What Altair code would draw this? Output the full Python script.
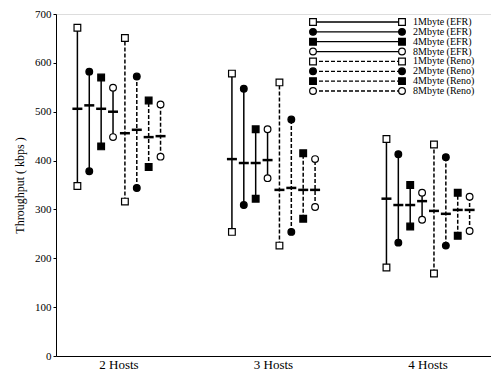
import altair as alt
import pandas as pd

hosts = ["2 Hosts", "3 Hosts", "4 Hosts"]
series = ["1Mbyte (EFR)", "2Mbyte (EFR)", "4Mbyte (EFR)", "8Mbyte (EFR)",
          "1Mbyte (Reno)", "2Mbyte (Reno)", "4Mbyte (Reno)", "8Mbyte (Reno)"]
buffers = ["1Mbyte", "2Mbyte", "4Mbyte", "8Mbyte"]

# per host: values in series order
high = {
    "2 Hosts": [672, 582, 570, 549, 651, 572, 523, 515],
    "3 Hosts": [578, 547, 464, 464, 560, 484, 415, 403],
    "4 Hosts": [444, 413, 350, 334, 433, 407, 334, 326],
}
mean = {
    "2 Hosts": [506, 513, 506, 500, 456, 463, 448, 450],
    "3 Hosts": [403, 395, 395, 401, 340, 344, 340, 340],
    "4 Hosts": [322, 309, 309, 317, 297, 291, 299, 299],
}
low = {
    "2 Hosts": [348, 378, 429, 448, 316, 344, 387, 408],
    "3 Hosts": [254, 309, 322, 364, 226, 254, 281, 305],
    "4 Hosts": [181, 232, 265, 279, 169, 226, 246, 256],
}

rows = []
for h in hosts:
    for j, s in enumerate(series):
        rows.append({
            "host": h, "series": s,
            "buf": s.split(" ")[0],
            "proto": "EFR" if "EFR" in s else "Reno",
            "low": low[h][j], "mean": mean[h][j], "high": high[h][j],
        })
df = pd.DataFrame(rows)

leg = pd.DataFrame({
    "series": series,
    "buf": [s.split(" ")[0] for s in series],
    "proto": ["EFR" if "EFR" in s else "Reno" for s in series],
})

FONT = "Liberation Serif"

xenc = alt.X("host:N", sort=hosts, title=None,
             scale=alt.Scale(paddingInner=0.385, paddingOuter=0.1),
             axis=alt.Axis(labelAngle=0, labelFontSize=13, ticks=False,
                           domainColor="black", labelColor="black",
                           labelPadding=2, labelFont=FONT))
xoff = alt.XOffset("series:N", sort=series,
                   scale=alt.Scale(paddingInner=0, paddingOuter=0))
yscale = alt.Scale(domain=[0, 700])
yaxis = alt.Axis(values=list(range(0, 701, 100)), title="Throughput ( kbps )",
                 titleFont=FONT, titleFontWeight="normal", titleFontSize=12,
                 titleColor="black", labelFont=FONT, labelFontSize=11,
                 labelColor="black", domainColor="black", tickColor="black",
                 tickSize=3, grid=False, titlePadding=8)

dash = alt.StrokeDash("proto:N", legend=None,
                      scale=alt.Scale(domain=["EFR", "Reno"], range=[[1, 0], [4, 2]]))
shape = alt.Shape("buf:N", legend=None,
                  scale=alt.Scale(domain=buffers, range=["square", "circle", "square", "circle"]))
fill = alt.Fill("buf:N", legend=None,
                scale=alt.Scale(domain=buffers, range=["white", "black", "black", "white"]))

base = alt.Chart(df)
rules = base.mark_rule(color="black", strokeWidth=1.5).encode(
    x=xenc, xOffset=xoff,
    y=alt.Y("low:Q", scale=yscale, axis=yaxis), y2="high:Q",
    strokeDash=dash)
ticks = base.mark_tick(color="black", thickness=2.5, size=10, opacity=1).encode(
    x=xenc, xOffset=xoff, y=alt.Y("mean:Q", scale=yscale))
pts = base.transform_fold(["low", "high"], as_=["end", "val"]).mark_point(
    stroke="black", strokeWidth=1.2, opacity=1, size=45, filled=False).encode(
    x=xenc, xOffset=xoff, y=alt.Y("val:Q", scale=yscale),
    shape=shape, fill=fill)
main = alt.layer(rules, ticks, pts)

ly = alt.Y("series:N", sort=series, axis=None,
           scale=alt.Scale(type="point", range=[8, 77], padding=0))
lbase = alt.Chart(leg)
lrule = lbase.mark_rule(color="black", strokeWidth=1.3).encode(
    x=alt.value(257), x2=alt.value(346), y=ly, strokeDash=dash)
lp1 = lbase.mark_point(stroke="black", strokeWidth=1.2, opacity=1, size=45).encode(
    x=alt.value(257), y=ly, shape=shape, fill=fill)
lp2 = lbase.mark_point(stroke="black", strokeWidth=1.2, opacity=1, size=45).encode(
    x=alt.value(346), y=ly, shape=shape, fill=fill)
ltext = lbase.mark_text(align="left", baseline="middle", font=FONT,
                        fontSize=10, color="black").encode(
    x=alt.value(357), y=ly, text="series:N")
legend = alt.layer(lrule, lp1, lp2, ltext)

chart = alt.layer(main, legend).resolve_scale(y="independent").properties(
    width=435, height=342,
    padding={"left": 5, "top": 0, "right": 0, "bottom": 0}
).configure_view(stroke=None).configure(background="white")

chart.save("out.html", embed_options={"renderer": "svg", "actions": False})
